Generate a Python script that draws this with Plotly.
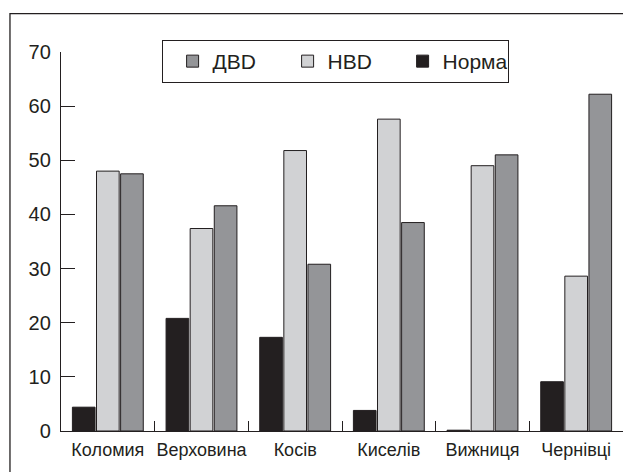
import plotly.graph_objects as go

categories = ["Коломия", "Верховина", "Косів", "Киселів", "Вижниця", "Чернівці"]
norma = [4.4, 20.8, 17.3, 3.8, 0.15, 9.1]
nvd = [48.0, 37.4, 51.8, 57.6, 49.0, 28.6]
dvd = [47.5, 41.6, 30.8, 38.5, 51.0, 62.2]
y_ticks = [0, 10, 20, 30, 40, 50, 60, 70]

INK = "#231f20"
FONT = "Liberation Sans, Arial, sans-serif"

fig = go.Figure()
fig.add_trace(go.Bar(name="Норма", x=categories, y=norma,
                     marker=dict(color="#231f20", line=dict(color=INK, width=1))))
fig.add_trace(go.Bar(name="НВD", x=categories, y=nvd,
                     marker=dict(color="#d1d2d4", line=dict(color=INK, width=1))))
fig.add_trace(go.Bar(name="ДВD", x=categories, y=dvd,
                     marker=dict(color="#949598", line=dict(color=INK, width=1))))

fig.update_layout(
    width=631, height=472,
    margin=dict(l=53, r=16.3, t=44.3, b=49.3),
    paper_bgcolor="white", plot_bgcolor="white",
    barmode="group", bargap=0.228, bargroupgap=0.06,
    font=dict(family=FONT, color=INK),
    showlegend=True,
    legend=dict(
        orientation="h", traceorder="reversed",
        x=0.179, xanchor="left", y=1.0317, yanchor="top",
        bordercolor=INK, borderwidth=1, bgcolor="white",
        font=dict(size=21, family=FONT, color=INK),
        indentation=10, entrywidth=60, entrywidthmode="pixels",
    ),
    xaxis=dict(
        type="category", showline=True, linecolor=INK, linewidth=1.3,
        ticks="inside", tickson="boundaries", ticklen=10, tickcolor=INK, tickwidth=1.3,
        tickfont=dict(size=18, family=FONT, color=INK), showgrid=False,
        ticklabelstandoff=2, tickangle=0, automargin=False,
    ),
    yaxis=dict(
        range=[0, 70], tickvals=y_ticks, showline=True, linecolor=INK, linewidth=1.3,
        ticks="inside", ticklen=14, tickcolor=INK, tickwidth=1.3,
        tickfont=dict(size=20, family=FONT, color=INK), showgrid=False, zeroline=False,
        ticklabelstandoff=5, automargin=False,
    ),
    shapes=[dict(type="rect", xref="paper", yref="paper",
                 x0=-0.0908, x1=1.05, y0=-0.15, y1=1.1012,
                 line=dict(color=INK, width=1.3), layer="below")],
)

fig.write_html("out.html")
